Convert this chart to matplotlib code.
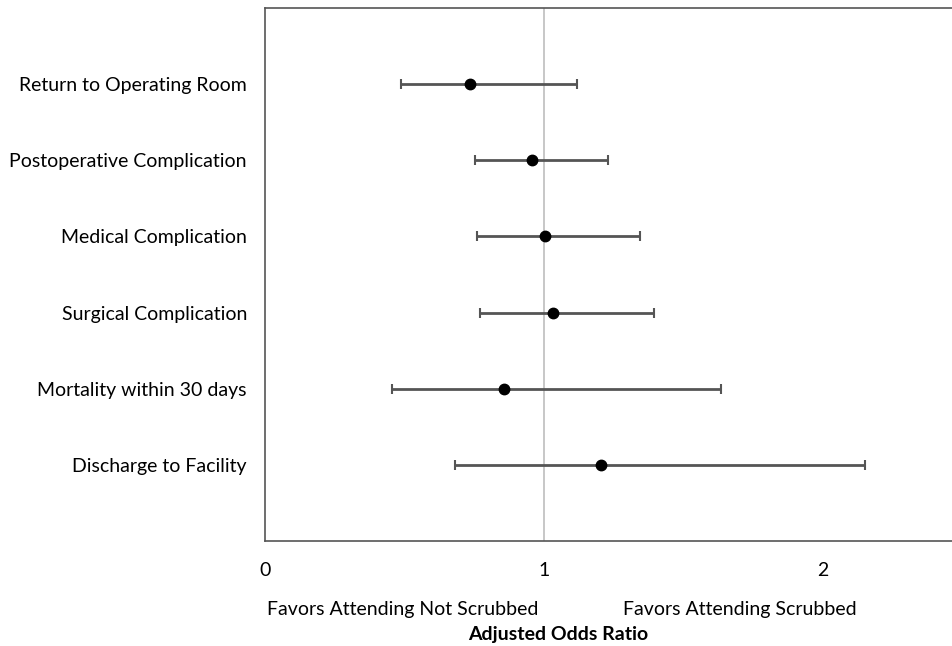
import numpy as np
import matplotlib.pyplot as plt

outcomes = ['Return to Operating Room', 'Postoperative Complication', 'Medical Complication',
            'Surgical Complication', 'Mortality within 30 days', 'Discharge to Facility']
odds_ratio = [0.734, 0.957, 1.004, 1.032, 0.858, 1.203]
ci_low = [0.487, 0.754, 0.759, 0.771, 0.455, 0.682]
ci_high = [1.118, 1.228, 1.344, 1.393, 1.634, 2.150]
x_ticks = [0, 1, 2]

plt.rcParams['font.family'] = ['Lato', 'DejaVu Sans']
fs = 14

fig = plt.figure(figsize=(9.52, 6.46), dpi=100)
# right edge runs past the figure like in the original
ax = fig.add_axes([265 / 952, 1 - 541 / 646, 2.5 * 279 / 952, 533 / 646])

y = np.arange(1, len(outcomes) + 1)
odds = np.array(odds_ratio)
err = [odds - np.array(ci_low), np.array(ci_high) - odds]

ax.axvline(1, color='#b8b8b8', linewidth=1.1, zorder=1)
ax.errorbar(odds, y, xerr=err, fmt='none', ecolor='#555555', elinewidth=2,
            capsize=3.5, capthick=1.5, zorder=2)
ax.plot(odds, y, 'o', color='black', markersize=7.5, zorder=3)

ax.set_xlim(0, 2.5)
ax.set_ylim(7, 0)
ax.set_yticks(y)
ax.set_yticklabels(outcomes, fontsize=fs)
ax.set_xticks(x_ticks)
ax.set_xticklabels([str(t) for t in x_ticks], fontsize=fs)
ax.tick_params(axis='y', length=0, pad=13)
ax.tick_params(axis='x', length=0, pad=15)

for s in ['left', 'top', 'bottom', 'right']:
    ax.spines[s].set_color('#555555')
    ax.spines[s].set_linewidth(1.2)

fig.text(267 / 952, 1 - 615 / 646, 'Favors Attending Not Scrubbed', fontsize=fs,
         ha='left', va='baseline')
fig.text(623 / 952, 1 - 615 / 646, 'Favors Attending Scrubbed', fontsize=fs,
         ha='left', va='baseline')
fig.text(558 / 952, 1 - 640 / 646, 'Adjusted Odds Ratio', fontsize=fs,
         fontweight='bold', ha='center', va='baseline')

fig.savefig('out.png', dpi=100)
